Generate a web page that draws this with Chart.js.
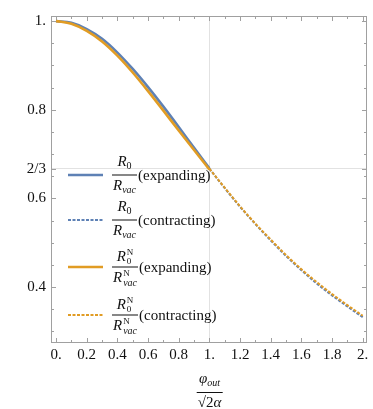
<!DOCTYPE html>
<html>
<head>
<meta charset="utf-8">
<script src="https://cdn.jsdelivr.net/npm/chart.js@4.4.1/dist/chart.umd.min.js"></script>
<style>
  body { margin: 0; background: #fff; }
  #wrap { position: relative; width: 373px; height: 409px; font-family: "Liberation Serif", serif; color: #111; }
  .row { position: absolute; left: 112px; display: flex; align-items: center; transform: translateY(-50%); font-size: 15px; white-space: nowrap; }
  .frac { display: inline-flex; flex-direction: column; align-items: center; margin-right: 1px; }
  .frac .num { padding: 0 1px 1px; line-height: 16px; }
  .frac .den { border-top: 1px solid #111; padding: 1px 1px 0; line-height: 16px; }
  .sub { font-size: 10px; vertical-align: -3px; }
  .ss { display: inline-flex; flex-direction: column; font-size: 9px; line-height: 9px; vertical-align: 6px; margin-left: 1px; }
  .ss i { font-size: 10px; }
  #xtitle { position: absolute; left: 210px; top: 370px; transform: translateX(-50%); font-size: 15px; }
  #xtitle .num { line-height: 17px; padding: 0 2px 1px; }
  #xtitle .den { line-height: 16px; }
  .over { border-top: 1px solid #111; padding-top: 1px; }
</style>
</head>
<body>
<div id="wrap">
  <canvas id="chart"></canvas>

  <div class="row" style="top:175px">
    <span class="frac"><span class="num"><i>R</i><span class="sub">0</span></span><span class="den"><i>R</i><i class="sub">vac</i></span></span>(expanding)
  </div>
  <div class="row" style="top:220px">
    <span class="frac"><span class="num"><i>R</i><span class="sub">0</span></span><span class="den"><i>R</i><i class="sub">vac</i></span></span>(contracting)
  </div>
  <div class="row" style="top:267px">
    <span class="frac"><span class="num"><i>R</i><span class="ss"><span>N</span><span>0</span></span></span><span class="den"><i>R</i><span class="ss"><span>N</span><i>vac</i></span></span></span>(expanding)
  </div>
  <div class="row" style="top:315px">
    <span class="frac"><span class="num"><i>R</i><span class="ss"><span>N</span><span>0</span></span></span><span class="den"><i>R</i><span class="ss"><span>N</span><i>vac</i></span></span></span>(contracting)
  </div>

  <div id="xtitle">
    <span class="frac"><span class="num"><i>φ</i><i class="sub">out</i></span><span class="den">√<span class="over">2<i>α</i></span></span></span>
  </div>
</div>

<script>
// x positions of the two branches
const xExp = [0, 0.1, 0.2, 0.3, 0.4, 0.5, 0.6, 0.7, 0.8, 0.9, 1.0];
const xCon = [1.0, 1.1, 1.2, 1.3, 1.4, 1.5, 1.6, 1.7, 1.8, 1.9, 2.0];

// R0/Rvac
const blueExp = [1.000, 0.996, 0.982, 0.960, 0.929, 0.892, 0.851, 0.807, 0.761, 0.714, 0.668];
const blueCon = [0.667, 0.623, 0.581, 0.542, 0.505, 0.470, 0.438, 0.408, 0.381, 0.356, 0.332];
// R0^N/Rvac^N
const orangeExp = [1.000, 0.994, 0.978, 0.954, 0.922, 0.884, 0.842, 0.798, 0.753, 0.709, 0.665];
const orangeCon = [0.667, 0.624, 0.582, 0.543, 0.507, 0.472, 0.440, 0.411, 0.384, 0.359, 0.335];

const xTicks = [0, 0.2, 0.4, 0.6, 0.8, 1, 1.2, 1.4, 1.6, 1.8, 2];
const xTickLabels = ["0.", "0.2", "0.4", "0.6", "0.8", "1.", "1.2", "1.4", "1.6", "1.8", "2."];
const xMinor = [0.1, 0.3, 0.5, 0.7, 0.9, 1.1, 1.3, 1.5, 1.7, 1.9];
const yTicks = [0.4, 0.6, 2 / 3, 0.8, 1];
const yTickLabels = ["0.4", "0.6", "2/3", "0.8", "1."];
const yMinor = [0.3, 0.35, 0.45, 0.5, 0.55, 0.65, 0.7, 0.75, 0.85, 0.9, 0.95];

const BLUE = "#5E81B5";
const ORANGE = "#E19C24";
const FRAME = "#a0a0a0";
const GRID = "#e2e2e2";

const pts = (xs, ys) => xs.map((x, i) => ({ x: x, y: ys[i] }));

const frame = {
  id: "frame",
  beforeDatasetsDraw(chart) {
    const { ctx, chartArea: a, scales } = chart;
    ctx.save();
    ctx.strokeStyle = FRAME;
    ctx.lineWidth = 1;
    ctx.strokeRect(a.left + 0.5, a.top + 0.5, a.right - a.left - 1, a.bottom - a.top - 1);
    ctx.beginPath();
    const xt = (v, len) => {
      const px = Math.round(scales.x.getPixelForValue(v)) + 0.5;
      ctx.moveTo(px, a.bottom); ctx.lineTo(px, a.bottom - len);
      ctx.moveTo(px, a.top); ctx.lineTo(px, a.top + len);
    };
    const yt = (v, len) => {
      const py = Math.round(scales.y.getPixelForValue(v)) + 0.5;
      ctx.moveTo(a.left, py); ctx.lineTo(a.left + len, py);
      ctx.moveTo(a.right, py); ctx.lineTo(a.right - len, py);
    };
    xTicks.forEach(v => xt(v, 5));
    xMinor.forEach(v => xt(v, 3));
    yTicks.forEach(v => yt(v, 5));
    yMinor.forEach(v => yt(v, 3));
    ctx.stroke();
    ctx.restore();
  },
  afterDatasetsDraw(chart) {
    const ctx = chart.ctx;
    const rows = [
      [175, BLUE, []], [220, BLUE, [3, 1.5]],
      [267, ORANGE, []], [315, ORANGE, [3, 1.5]]
    ];
    ctx.save();
    rows.forEach(([y, c, d]) => {
      ctx.strokeStyle = c;
      ctx.lineWidth = d.length ? 2 : 2.6;
      ctx.setLineDash(d);
      ctx.beginPath();
      ctx.moveTo(68, y); ctx.lineTo(103, y);
      ctx.stroke();
    });
    ctx.restore();
  }
};

new Chart(document.getElementById("chart"), {
  type: "line",
  data: {
    datasets: [
      { data: pts(xExp, blueExp), borderColor: BLUE, borderWidth: 2.6, order: 2 },
      { data: pts(xCon, blueCon), borderColor: BLUE, borderWidth: 2, borderDash: [3, 1.5], order: 3 },
      { data: pts(xExp, orangeExp), borderColor: ORANGE, borderWidth: 2.6, order: 0 },
      { data: pts(xCon, orangeCon), borderColor: ORANGE, borderWidth: 2, borderDash: [3, 1.5], order: 1 }
    ]
  },
  options: {
    responsive: true,
    maintainAspectRatio: false,
    animation: false,
    layout: { padding: { top: 16, right: 6, left: 0, bottom: 0 } },
    elements: { point: { radius: 0 }, line: { cubicInterpolationMode: "monotone", fill: false } },
    plugins: { legend: { display: false }, tooltip: { enabled: false } },
    scales: {
      x: {
        type: "linear",
        min: -0.033,
        max: 2.028,
        afterFit: s => { s.height = 66; },
        afterBuildTicks: s => { s.ticks = xTicks.map(v => ({ value: v })); },
        grid: {
          drawTicks: false,
          color: c => (c.tick && Math.abs(c.tick.value - 1) < 1e-6 ? GRID : "rgba(0,0,0,0)")
        },
        border: { display: false },
        ticks: {
          autoSkip: false,
          maxRotation: 0,
          padding: 3,
          color: "#111",
          font: { family: "Liberation Serif", size: 15 },
          callback: (v, i) => xTickLabels[i]
        }
      },
      y: {
        min: 0.2736,
        max: 1.0115,
        afterFit: s => { s.width = 51; },
        afterBuildTicks: s => { s.ticks = yTicks.map(v => ({ value: v })); },
        grid: {
          drawTicks: false,
          color: c => (c.tick && Math.abs(c.tick.value - 2 / 3) < 1e-6 ? GRID : "rgba(0,0,0,0)")
        },
        border: { display: false },
        ticks: {
          padding: 5,
          color: "#111",
          font: { family: "Liberation Serif", size: 15 },
          callback: (v, i) => yTickLabels[i]
        }
      }
    }
  },
  plugins: [frame]
});
</script>
</body>
</html>
